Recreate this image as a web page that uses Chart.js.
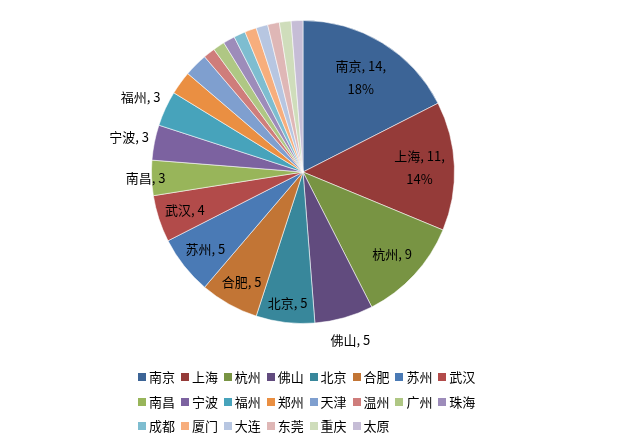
<!DOCTYPE html>
<html>
<head>
<meta charset="utf-8">
<script src="https://cdn.jsdelivr.net/npm/chart.js@4/dist/chart.umd.min.js"></script>
<style>
  body { margin: 0; background: #fff; }
  #wrap { position: relative; width: 626px; height: 448px; }
  #legend { position: absolute; left: 138px; top: 369px; font: 13px "Noto Sans CJK SC", sans-serif; color: #000; }
  .item { position: absolute; white-space: nowrap; line-height: 16px; }
  .box { display: inline-block; width: 8px; height: 8px; margin-right: 3px; vertical-align: 1px; }
</style>
</head>
<body>
<div id="wrap">
  <canvas id="myChart" width="626" height="448"></canvas>
  <div id="legend"></div>
</div>
<script>
const cities = ["南京","上海","杭州","佛山","北京","合肥","苏州","武汉","南昌","宁波","福州",
                "郑州","天津","温州","广州","珠海","成都","厦门","大连","东莞","重庆","太原"];
const counts = [14, 11, 9, 5, 5, 5, 5, 4, 3, 3, 3, 2, 2, 1, 1, 1, 1, 1, 1, 1, 1, 1];
const colors = ["#3c6496","#953b39","#789443","#614b7e","#38879b","#c27535","#4a7ab5","#b24b4a",
                "#98b55a","#7c62a0","#47a3bb","#ea8f42","#7f9fcf","#cf7d7b","#afc784","#9d8cba",
                "#7ebdd0","#f7ae7d","#b7c6e1","#dfb7b6","#cfddbb","#c6bdd6"];

// which slices also show the percentage, and where each label sits (fraction of radius)
const pctLabels = ["南京","上海"];
const labelRadius = { "南京":0.73, "上海":0.77, "杭州":0.8, "佛山":1.15, "北京":0.87, "合肥":0.83,
                      "苏州":0.82, "武汉":0.82, "南昌":1.04, "宁波":1.17, "福州":1.18 };

const sliceLabels = {
  id: "sliceLabels",
  afterDatasetsDraw(chart) {
    const ctx = chart.ctx;
    const meta = chart.getDatasetMeta(0);
    const total = counts.reduce((a, b) => a + b, 0);
    ctx.save();
    ctx.font = '13px "Noto Sans CJK SC"';
    ctx.fillStyle = "#000";
    ctx.textAlign = "center";
    ctx.textBaseline = "middle";
    meta.data.forEach((arc, i) => {
      const f = labelRadius[cities[i]];
      if (!f) return;
      const p = arc.getProps(["x", "y", "startAngle", "endAngle", "outerRadius"], true);
      const mid = (p.startAngle + p.endAngle) / 2;
      const x = p.x + Math.cos(mid) * p.outerRadius * f;
      const y = p.y + Math.sin(mid) * p.outerRadius * f;
      let lines = [cities[i] + ", " + counts[i]];
      if (pctLabels.includes(cities[i])) {
        lines = [cities[i] + ", " + counts[i] + ",", Math.round(counts[i] / total * 100) + "%"];
      }
      lines.forEach((t, k) => ctx.fillText(t, x, y + (k - (lines.length - 1) / 2) * 23));
    });
    ctx.restore();
  }
};

const chart = new Chart(document.getElementById("myChart"), {
  type: "pie",
  data: {
    labels: cities,
    datasets: [{
      data: counts,
      backgroundColor: colors,
      borderColor: "rgba(255,255,255,0.55)",
      borderWidth: 1
    }]
  },
  options: {
    responsive: false,
    animation: false,
    layout: { padding: { top: 20, left: 151, right: 171, bottom: 124 } },
    plugins: {
      legend: { display: false },
      tooltip: { enabled: false }
    }
  },
  plugins: [sliceLabels]
});

// legend in the same 8-column grid the original uses
const legend = document.getElementById("legend");
chart.data.labels.forEach((name, i) => {
  const item = document.createElement("div");
  item.className = "item";
  item.style.left = (i % 8) * 42.9 + "px";
  item.style.top = Math.floor(i / 8) * 24.5 + "px";
  item.innerHTML = "<span class='box' style='background:" + colors[i] + "'></span>" + name;
  legend.appendChild(item);
});
</script>
</body>
</html>
